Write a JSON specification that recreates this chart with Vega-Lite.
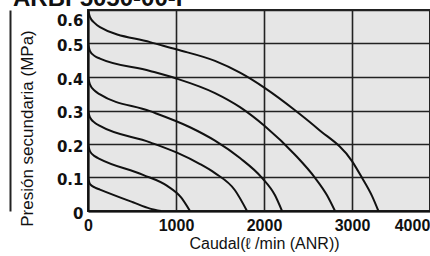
{
  "$schema": "https://vega.github.io/schema/vega-lite/v6.json",
  "width": 342,
  "height": 201,
  "autosize": "none",
  "padding": {"left": 88, "top": 10, "right": 0, "bottom": 45},
  "background": "white",
  "title": {
    "text": "ARBF5050-00-P",
    "anchor": "start",
    "frame": "group",
    "dx": -75,
    "dy": 23,
    "offset": 0,
    "baseline": "alphabetic",
    "font": "Liberation Sans",
    "fontSize": 24,
    "fontWeight": "bold",
    "color": "#111"
  },
  "config": {
    "view": {"fill": "#e6e6e6", "stroke": "#222", "strokeWidth": 2},
    "font": "Liberation Sans"
  },
  "data": {
    "values": [
      {"set": 0.6, "flow": 0, "p": 0.6},
      {"set": 0.6, "flow": 23, "p": 0.579},
      {"set": 0.6, "flow": 80, "p": 0.56},
      {"set": 0.6, "flow": 136, "p": 0.549},
      {"set": 0.6, "flow": 705, "p": 0.504},
      {"set": 0.6, "flow": 1011, "p": 0.482},
      {"set": 0.6, "flow": 1443, "p": 0.448},
      {"set": 0.6, "flow": 1727, "p": 0.413},
      {"set": 0.6, "flow": 2011, "p": 0.367},
      {"set": 0.6, "flow": 2352, "p": 0.301},
      {"set": 0.6, "flow": 2614, "p": 0.245},
      {"set": 0.6, "flow": 3000, "p": 0.149},
      {"set": 0.6, "flow": 3114, "p": 0.099},
      {"set": 0.6, "flow": 3227, "p": 0.045},
      {"set": 0.6, "flow": 3300, "p": 0},
      {"set": 0.5, "flow": 0, "p": 0.5},
      {"set": 0.5, "flow": 23, "p": 0.477},
      {"set": 0.5, "flow": 80, "p": 0.462},
      {"set": 0.5, "flow": 136, "p": 0.455},
      {"set": 0.5, "flow": 705, "p": 0.418},
      {"set": 0.5, "flow": 1011, "p": 0.395},
      {"set": 0.5, "flow": 1443, "p": 0.352},
      {"set": 0.5, "flow": 1727, "p": 0.31},
      {"set": 0.5, "flow": 2011, "p": 0.253},
      {"set": 0.5, "flow": 2352, "p": 0.168},
      {"set": 0.5, "flow": 2580, "p": 0.099},
      {"set": 0.5, "flow": 2716, "p": 0.047},
      {"set": 0.5, "flow": 2807, "p": 0},
      {"set": 0.4, "flow": 0, "p": 0.4},
      {"set": 0.4, "flow": 23, "p": 0.377},
      {"set": 0.4, "flow": 80, "p": 0.358},
      {"set": 0.4, "flow": 136, "p": 0.348},
      {"set": 0.4, "flow": 705, "p": 0.298},
      {"set": 0.4, "flow": 1159, "p": 0.25},
      {"set": 0.4, "flow": 1443, "p": 0.21},
      {"set": 0.4, "flow": 1727, "p": 0.158},
      {"set": 0.4, "flow": 1977, "p": 0.099},
      {"set": 0.4, "flow": 2125, "p": 0.047},
      {"set": 0.4, "flow": 2205, "p": 0},
      {"set": 0.3, "flow": 0, "p": 0.3},
      {"set": 0.3, "flow": 23, "p": 0.279},
      {"set": 0.3, "flow": 80, "p": 0.263},
      {"set": 0.3, "flow": 136, "p": 0.254},
      {"set": 0.3, "flow": 705, "p": 0.205},
      {"set": 0.3, "flow": 1011, "p": 0.174},
      {"set": 0.3, "flow": 1273, "p": 0.14},
      {"set": 0.3, "flow": 1443, "p": 0.113},
      {"set": 0.3, "flow": 1670, "p": 0.062},
      {"set": 0.3, "flow": 1807, "p": 0},
      {"set": 0.2, "flow": 0, "p": 0.2},
      {"set": 0.2, "flow": 23, "p": 0.178},
      {"set": 0.2, "flow": 80, "p": 0.163},
      {"set": 0.2, "flow": 136, "p": 0.155},
      {"set": 0.2, "flow": 625, "p": 0.108},
      {"set": 0.2, "flow": 900, "p": 0.075},
      {"set": 0.2, "flow": 1060, "p": 0.04},
      {"set": 0.2, "flow": 1159, "p": 0},
      {"set": 0.1, "flow": 0, "p": 0.1},
      {"set": 0.1, "flow": 23, "p": 0.08},
      {"set": 0.1, "flow": 80, "p": 0.07},
      {"set": 0.1, "flow": 136, "p": 0.064},
      {"set": 0.1, "flow": 511, "p": 0.026},
      {"set": 0.1, "flow": 705, "p": 0.007},
      {"set": 0.1, "flow": 830, "p": 0}
    ]
  },
  "layer": [
    {
      "mark": {"type": "line", "interpolate": "monotone", "color": "#111", "strokeWidth": 2, "clip": true},
      "encoding": {
        "x": {
          "field": "flow",
          "type": "quantitative",
          "scale": {"domain": [0, 4000], "range": [0, 352], "nice": false},
          "axis": {
            "values": [0, 1000, 2000, 3000, 4000],
            "format": "d",
            "grid": true,
            "gridColor": "#222",
            "gridWidth": 1.6,
            "ticks": false,
            "domain": true,
            "domainColor": "#111",
            "domainWidth": 2,
            "labelFont": "Liberation Sans",
            "labelFontSize": 16,
            "labelFontWeight": "bold",
            "labelColor": "#111",
            "labelPadding": 6,
            "labelFlush": false,
            "labelBound": false,
            "labelOverlap": false,
            "labelOffset": {"condition": {"test": "datum.value == 4000", "value": -28}, "value": 0},
            "title": "Caudal(ℓ /min  (ANR))",
            "titleFont": "Liberation Sans",
            "titleFontSize": 16,
            "titleFontWeight": "normal",
            "titleColor": "#111",
            "titlePadding": 2
          }
        },
        "y": {
          "field": "p",
          "type": "quantitative",
          "scale": {"domain": [0, 0.6], "nice": false},
          "axis": {
            "values": [0, 0.1, 0.2, 0.3, 0.4, 0.5, 0.6],
            "labelExpr": "datum.value == 0 ? '0' : format(datum.value, '.1f')",
            "grid": true,
            "gridColor": "#222",
            "gridWidth": 1.6,
            "ticks": false,
            "domain": true,
            "domainColor": "#111",
            "domainWidth": 2,
            "labelFont": "DejaVu Sans",
            "labelFontSize": 15,
            "labelFontWeight": "bold",
            "labelColor": "#111",
            "labelPadding": 5,
            "labelOverlap": false,
            "labelFlush": false,
            "labelOffset": {"condition": {"test": "datum.value >= 0.55", "value": 10}, "value": 2},
            "title": "Presión secundaria (MPa)",
            "titleFont": "Liberation Sans",
            "titleFontSize": 17,
            "titleFontWeight": "normal",
            "titleColor": "#111",
            "titlePadding": 20,
            "titleY": 118
          }
        },
        "detail": {"field": "set", "type": "nominal"}
      }
    },
    {
      "mark": {"type": "point", "opacity": 0},
      "encoding": {
        "x": {"field": "flow", "type": "quantitative"},
        "y": {
          "field": "p",
          "type": "quantitative",
          "axis": {
            "orient": "left",
            "offset": 78,
            "labels": false,
            "ticks": false,
            "grid": false,
            "title": null,
            "domain": true,
            "domainColor": "#222",
            "domainWidth": 2
          }
        }
      }
    }
  ],
  "resolve": {"axis": {"y": "independent"}}
}
